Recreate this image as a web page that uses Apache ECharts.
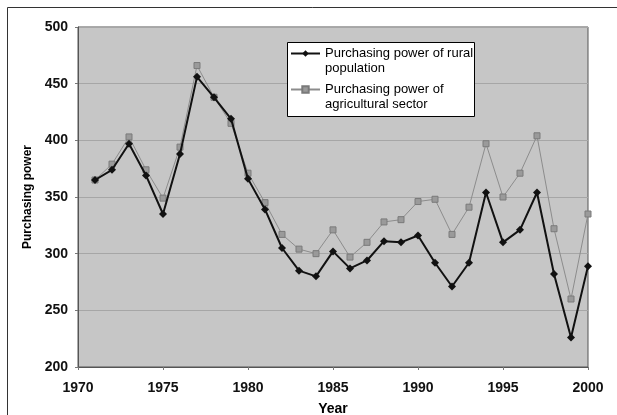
<!DOCTYPE html>
<html>
<head>
<meta charset="utf-8">
<script src="https://cdn.jsdelivr.net/npm/echarts@6/dist/echarts.min.js"></script>
<style>
html,body{margin:0;padding:0;background:#fff;}
#chart{width:617px;height:415px;}
</style>
</head>
<body>
<div id="chart"></div>
<script>
const years = [1971,1972,1973,1974,1975,1976,1977,1978,1979,1980,1981,1982,1983,1984,1985,1986,1987,1988,1989,1990,1991,1992,1993,1994,1995,1996,1997,1998,1999,2000];
const ruralPopulation = [365,374,397,369,335,388,456,438,419,366,339,305,285,280,302,287,294,311,310,316,292,271,292,354,310,321,354,282,226,289];
const agriculturalSector = [365,379,403,374,349,394,466,438,415,371,345,317,304,300,321,297,310,328,330,346,348,317,341,397,350,371,404,322,260,335];
const seriesNames = ['Purchasing power of rural\npopulation', 'Purchasing power of\nagricultural sector'];
const xAxisTitle = 'Year';
const yAxisTitle = 'Purchasing power';

const chart = echarts.init(document.getElementById('chart'), null, {renderer: 'canvas'});
const font = '"Liberation Sans", Arial, sans-serif';

chart.setOption({
  animation: false,
  backgroundColor: '#fff',
  textStyle: {fontFamily: font},
  grid: {
    left: 78, right: 29, top: 27, bottom: 48,
    outerBoundsMode: 'none', containLabel: false,
    show: true, backgroundColor: '#c6c6c6', borderColor: '#555', borderWidth: 1
  },
  graphic: [
    {type: 'rect', z: 0, silent: true, shape: {x: 7.5, y: 7.5, width: 700, height: 500},
     style: {fill: null, stroke: '#333', lineWidth: 1}},
    {type: 'rect', z: 3, silent: true, shape: {x: 287.5, y: 42.5, width: 187, height: 74},
     style: {fill: '#fff', stroke: '#000', lineWidth: 1}}
  ],
  legend: {
    orient: 'vertical',
    left: 290, top: 31,
    padding: 0,
    itemGap: -9,
    itemWidth: 29,
    itemHeight: 8,
    z: 5,
    formatter: function (name) { return '\n' + name; },
    textStyle: {fontSize: 13, lineHeight: 15, color: '#000', fontFamily: font},
    data: seriesNames
  },
  xAxis: {
    type: 'value', min: 1970, max: 2000, interval: 5,
    name: xAxisTitle, nameLocation: 'middle', nameGap: 35,
    nameTextStyle: {fontSize: 14, fontWeight: 'bold', color: '#000', fontFamily: font},
    axisLine: {show: true, lineStyle: {color: '#555', width: 1}},
    axisTick: {show: true, length: 3, lineStyle: {color: '#777'}},
    axisLabel: {fontSize: 14, fontWeight: 'bold', color: '#111', margin: 14, fontFamily: font,
      formatter: function (v) { return String(v); }},
    splitLine: {show: false}
  },
  yAxis: {
    type: 'value', min: 200, max: 500, interval: 50,
    name: yAxisTitle, nameLocation: 'middle', nameGap: 40,
    nameTextStyle: {fontSize: 12, fontWeight: 'bold', color: '#000', fontFamily: font},
    axisLine: {show: true, lineStyle: {color: '#555', width: 1}},
    axisTick: {show: true, length: 3, lineStyle: {color: '#777'}},
    axisLabel: {fontSize: 14, fontWeight: 'bold', color: '#111', margin: 10, fontFamily: font},
    splitLine: {show: true, lineStyle: {color: '#a6a6a6', width: 1}}
  },
  series: [
    {
      name: seriesNames[0], type: 'line', z: 3,
      data: years.map((y, i) => [y, ruralPopulation[i]]),
      symbol: 'diamond', symbolSize: 8,
      lineStyle: {color: '#111', width: 2},
      itemStyle: {color: '#111'}
    },
    {
      name: seriesNames[1], type: 'line', z: 2,
      data: years.map((y, i) => [y, agriculturalSector[i]]),
      symbol: 'rect', symbolSize: 6,
      lineStyle: {color: '#8c8c8c', width: 1},
      itemStyle: {color: '#9a9a9a', borderColor: '#7a7a7a', borderWidth: 1}
    }
  ]
});
</script>
</body>
</html>
